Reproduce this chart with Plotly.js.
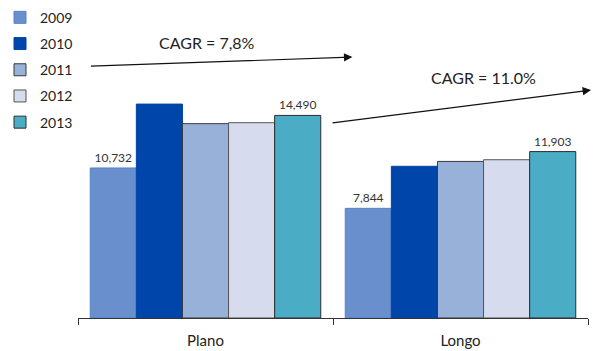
<!DOCTYPE html>
<html>
<head>
<meta charset="utf-8">
<script src="https://cdn.plot.ly/plotly-3.0.1.min.js"></script>
<style>html,body{margin:0;padding:0;background:#fff;}#chart{width:599px;height:351px;}</style>
</head>
<body>
<div id="chart"></div>
<script>
const categories = ["Plano", "Longo"];
const years = ["2009", "2010", "2011", "2012", "2013"];
const v2009 = [10732, 7844];
const v2010 = [15300, 10850];
const v2011 = [13900, 11200];
const v2012 = [13970, 11320];
const v2013 = [14490, 11903];
const labels2009 = ["10,732", "7,844"];
const labels2013 = ["14,490", "11,903"];
const cagrTexts = ["CAGR = 7,8%", "CAGR = 11.0%"];

const series = [v2009, v2010, v2011, v2012, v2013];
const fills = ["#6990CD", "#0045A9", "#98B1D9", "#D6DCEE", "#4BACC6"];
const borders = ["#5582C8", "#0045A9", "#3A3A3A", "#555555", "#2E2E2E"];
const texts = [labels2009, null, null, null, labels2013];

const FONT = "Lato, 'Open Sans', sans-serif";

const traces = series.map((vals, i) => ({
  type: "bar",
  name: years[i],
  x: categories,
  y: vals,
  legendgroup: "g" + i,
  marker: {color: fills[i], line: {color: borders[i], width: 1}},
  text: texts[i] || undefined,
  textposition: texts[i] ? "outside" : "none",
  textfont: {family: FONT, size: 12, color: "#333333"},
  cliponaxis: false,
  hoverinfo: "x+y+name"
}));

const layout = {
  width: 599, height: 351,
  margin: {l: 77, r: 11, t: 10, b: 33},
  paper_bgcolor: "#ffffff", plot_bgcolor: "#ffffff",
  barmode: "group", bargap: 0.096, bargroupgap: 0,
  font: {family: FONT, size: 14, color: "#222222"},
  showlegend: true,
  legend: {
    xref: "container", yref: "container", x: 0, y: 0.995, xanchor: "left", yanchor: "top",
    traceorder: "grouped", tracegroupgap: 5,
    font: {family: FONT, size: 14, color: "#222222"},
    bgcolor: "rgba(0,0,0,0)", itemwidth: 30
  },
  xaxis: {
    type: "category", showline: true, linecolor: "#333333", linewidth: 1,
    ticks: "outside", tickson: "boundaries", ticklen: 6, tickcolor: "#333333",
    ticklabelstandoff: 9,
    showgrid: false, zeroline: false,
    tickfont: {family: FONT, size: 15, color: "#222222"}
  },
  yaxis: {range: [0, 22030], visible: false, showgrid: false, zeroline: false},
  annotations: [
    {xref: "paper", yref: "paper", x: 0.538, y: 0.847, ax: -263, ay: 9,
     text: "", showarrow: true, arrowhead: 2, arrowsize: 1.4, arrowwidth: 1.2, arrowcolor: "#111111"},
    {xref: "paper", yref: "paper", x: 1.006, y: 0.740, ax: -260, ay: 33,
     text: "", showarrow: true, arrowhead: 2, arrowsize: 1.4, arrowwidth: 1.2, arrowcolor: "#111111"},
    {xref: "paper", yref: "paper", x: 0.252, y: 0.896, xanchor: "center", yanchor: "middle",
     text: cagrTexts[0], showarrow: false,
     font: {family: FONT, size: 16, color: "#222222"}},
    {xref: "paper", yref: "paper", x: 0.795, y: 0.782, xanchor: "center", yanchor: "middle",
     text: cagrTexts[1], showarrow: false,
     font: {family: FONT, size: 16, color: "#222222"}}
  ]
};

Plotly.newPlot("chart", traces, layout, {displayModeBar: false, staticPlot: true});
</script>
</body>
</html>
